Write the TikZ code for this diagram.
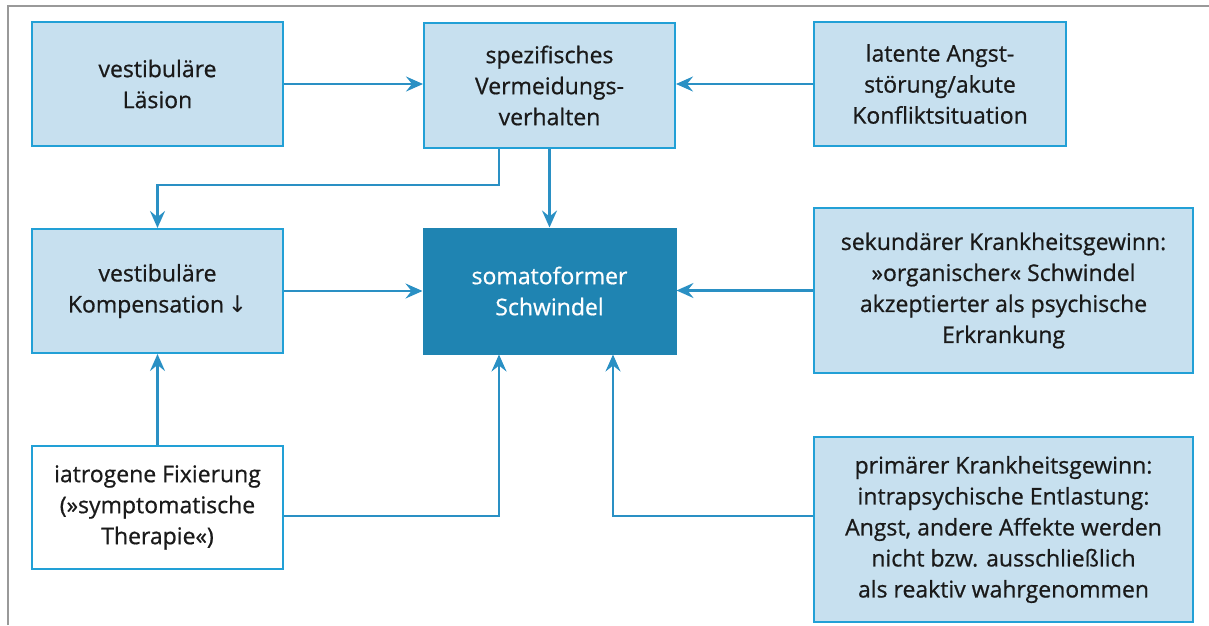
\documentclass[tikz,border=0pt]{standalone}
\usepackage{fontspec}
\setmainfont{Open Sans}[FakeBold=0.7]
\newfontfamily\arrowfont{DejaVu Sans}
\usetikzlibrary{arrows.meta}
\definecolor{lightfill}{HTML}{C7E0EF}
\definecolor{boxline}{HTML}{22A0D6}
\definecolor{arrcol}{HTML}{2A90C4}
\definecolor{darkbox}{HTML}{1F84B2}
\definecolor{txt}{HTML}{1A1A1A}
\tikzset{
  box/.style={draw=boxline, line width=2pt, fill=lightfill, align=center, text=txt,
    font=\fontsize{23}{31}\selectfont, inner sep=0pt},
  whitebox/.style={box, fill=white},
  darkstyle/.style={draw=darkbox, line width=1pt, fill=darkbox, align=center, text=white,
    font=\fontsize{23}{31}\selectfont, inner sep=0pt},
  arr/.style={draw=arrcol, line width=2.4pt, -{Stealth[length=17pt,width=15pt,inset=6pt]}},
}
\begin{document}
\begin{tikzpicture}[x=1pt,y=-1pt]
\useasboundingbox (0,0) rectangle (1209,625);
\draw[gray!80, line width=2.2pt] (8,625) -- (8,6) -- (1209,6);

\node[box, minimum width=251pt, minimum height=124pt] (b1) at (157.5,84) {vestibuläre\\Läsion};
\node[box, minimum width=251pt, minimum height=125pt] (b2) at (549.5,85.5) {spezifisches\\Vermeidungs-\\verhalten};
\node[box, minimum width=252pt, minimum height=124pt] (b3) at (940,84) {latente Angst-\\störung/akute\\Konfliktsituation};
\node[box, minimum width=251pt, minimum height=124pt] (b4) at (157.5,291) {vestibuläre\\Kompensation\,{\arrowfont ↓}};
\node[darkstyle, minimum width=253pt, minimum height=126pt] (b5) at (549.5,291) {somatoformer\\Schwindel};
\node[box, minimum width=379pt, minimum height=165pt] (b6) at (1003.5,290.5) {sekundärer Krankheitsgewinn:\\»organischer« Schwindel\\akzeptierter als psychische\\Erkrankung};
\node[box, minimum width=379pt, minimum height=185pt] (b7) at (1003.5,529.5) {primärer Krankheitsgewinn:\\intrapsychische Entlastung:\\Angst, andere Affekte werden\\nicht bzw. ausschließlich\\als reaktiv wahrgenommen};
\node[whitebox, minimum width=251pt, minimum height=123pt] (b8) at (157.5,507.5) {iatrogene Fixierung\\(»symptomatische\\Therapie«)};

\coordinate (k1) at (499,185);
\coordinate (c1) at (499,516);
\coordinate (c2) at (613,516);

\draw[arr] (b1.east) -- (b1.east -| b2.west);
\draw[arr] (b3.west) -- (b3.west -| b2.east);
\draw[arr] (b2.south -| k1) -- (k1) -| (b4.north);
\draw[arr] (b2.south) -- (b5.north);
\draw[arr] (b4.east) -- (b4.east -| b5.west);
\draw[arr] (b6.west) -- (b6.west -| b5.east);
\draw[arr] (b8.north) -- (b4.south);
\draw[arr] (b8.east |- c1) -| (b5.south -| c1);
\draw[arr] (b7.west |- c2) -| (b5.south -| c2);
\end{tikzpicture}
\end{document}
